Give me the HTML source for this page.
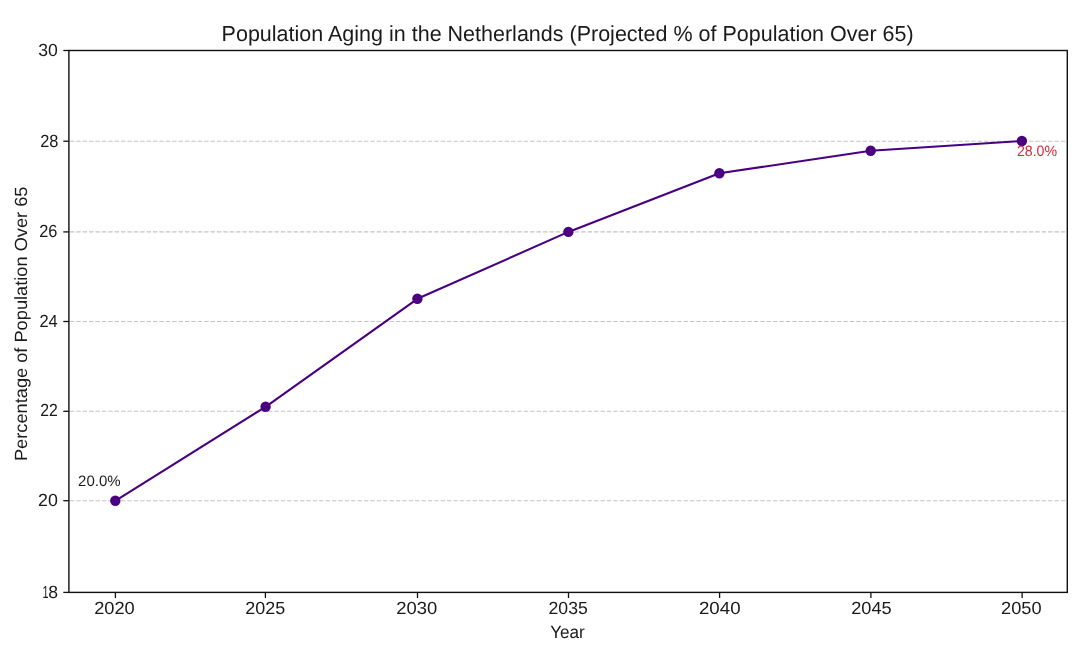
<!DOCTYPE html>
<html><head><meta charset="utf-8"><title>Population Aging in the Netherlands</title>
<style>
html,body{margin:0;padding:0;background:#fff;}
body{width:1080px;height:662px;overflow:hidden;}
svg{display:block;will-change:transform;}
text{font-family:"Liberation Sans",Arial,sans-serif;fill:#1a1a1a;text-rendering:geometricPrecision;}
</style></head>
<body>
<svg width="1080" height="662" viewBox="0 0 1080 662">
<rect x="0" y="0" width="1080" height="662" fill="#fff"/>
<g stroke="#c4c4c4" stroke-width="1.1" stroke-dasharray="4.4 1.993" stroke-dashoffset="-0.27" fill="none">
<line x1="69.60" y1="141.2" x2="1067.3" y2="141.2"/>
<line x1="69.60" y1="231.9" x2="1067.3" y2="231.9"/>
<line x1="69.60" y1="321.5" x2="1067.3" y2="321.5"/>
<line x1="69.60" y1="411.3" x2="1067.3" y2="411.3"/>
<line x1="69.60" y1="500.7" x2="1067.3" y2="500.7"/>
</g>
<g stroke="#111" stroke-width="1.3">
<line x1="63.30" y1="50.5" x2="68.9" y2="50.5"/>
<line x1="63.30" y1="141.2" x2="68.9" y2="141.2"/>
<line x1="63.30" y1="231.9" x2="68.9" y2="231.9"/>
<line x1="63.30" y1="321.5" x2="68.9" y2="321.5"/>
<line x1="63.30" y1="411.3" x2="68.9" y2="411.3"/>
<line x1="63.30" y1="500.7" x2="68.9" y2="500.7"/>
<line x1="63.30" y1="592.4" x2="68.9" y2="592.4"/>
<line x1="115.4" y1="592.4" x2="115.4" y2="598.00"/>
<line x1="265.4" y1="592.4" x2="265.4" y2="598.00"/>
<line x1="417.5" y1="592.4" x2="417.5" y2="598.00"/>
<line x1="568.5" y1="592.4" x2="568.5" y2="598.00"/>
<line x1="719.6" y1="592.4" x2="719.6" y2="598.00"/>
<line x1="870.9" y1="592.4" x2="870.9" y2="598.00"/>
<line x1="1022.1" y1="592.4" x2="1022.1" y2="598.00"/>
</g>
<rect x="68.9" y="50.5" width="998.40" height="541.90" fill="none" stroke="#111" stroke-width="1.4"/>
<polyline fill="none" stroke="#480080" stroke-width="2.1" stroke-linejoin="round" stroke-linecap="butt" points="115.3,500.8 265.6,406.8 417.4,298.8 568.4,231.9 719.4,173.3 870.7,150.7 1021.9,141.0"/>
<g fill="#4b0082">
<circle cx="115.3" cy="500.8" r="5.2"/>
<circle cx="265.6" cy="406.8" r="5.2"/>
<circle cx="417.4" cy="298.8" r="5.2"/>
<circle cx="568.4" cy="231.9" r="5.2"/>
<circle cx="719.4" cy="173.3" r="5.2"/>
<circle cx="870.7" cy="150.7" r="5.2"/>
<circle cx="1021.9" cy="141.0" r="5.2"/>
</g>
<text transform="translate(567.65,41.30) scale(0.9865,1)" font-size="21.8" text-anchor="middle">Population Aging in the Netherlands (Projected % of Population Over 65)</text>
<text transform="translate(47.95,56.10) scale(1.0000,1)" font-size="17.6" text-anchor="middle">30</text>
<text transform="translate(49.35,146.75) scale(0.9293,1)" font-size="17.6" text-anchor="middle">28</text>
<text transform="translate(48.35,237.00) scale(0.9293,1)" font-size="17.6" text-anchor="middle">26</text>
<text transform="translate(48.55,327.20) scale(0.9358,1)" font-size="17.6" text-anchor="middle">24</text>
<text transform="translate(49.05,416.30) scale(0.8967,1)" font-size="17.6" text-anchor="middle">22</text>
<text transform="translate(47.95,506.00) scale(1.0108,1)" font-size="17.6" text-anchor="middle">20</text>
<text transform="translate(45.50,598.30) scale(0.6200,1)" font-size="17.6" text-anchor="middle">1</text>
<text transform="translate(53.15,598.30) scale(1.0000,1)" font-size="17.6" text-anchor="middle">8</text>
<text transform="translate(114.45,613.80) scale(1.0367,1)" font-size="17.6" text-anchor="middle">2020</text>
<text transform="translate(265.30,613.80) scale(1.0203,1)" font-size="17.6" text-anchor="middle">2025</text>
<text transform="translate(416.85,613.80) scale(1.0468,1)" font-size="17.6" text-anchor="middle">2030</text>
<text transform="translate(568.15,613.80) scale(1.0017,1)" font-size="17.6" text-anchor="middle">2035</text>
<text transform="translate(719.75,613.80) scale(1.0626,1)" font-size="17.6" text-anchor="middle">2040</text>
<text transform="translate(871.45,613.80) scale(1.0312,1)" font-size="17.6" text-anchor="middle">2045</text>
<text transform="translate(1021.30,613.80) scale(1.0339,1)" font-size="17.6" text-anchor="middle">2050</text>
<text transform="translate(567.45,637.80) scale(0.9634,1)" font-size="17.8" text-anchor="middle">Year</text>
<text transform="translate(26.50,323.80) rotate(-90) scale(1.0329,1)" font-size="17.65" text-anchor="middle">Percentage of Population Over 65</text>
<text transform="translate(78.05,486.00) scale(1.0000,1)" font-size="15.0" text-anchor="start">20.0%</text>
<text transform="translate(1016.90,155.60) scale(0.9450,1)" font-size="15.0" text-anchor="start" style="fill:#d02a3a">28.0%</text>
</svg>
</body></html>
